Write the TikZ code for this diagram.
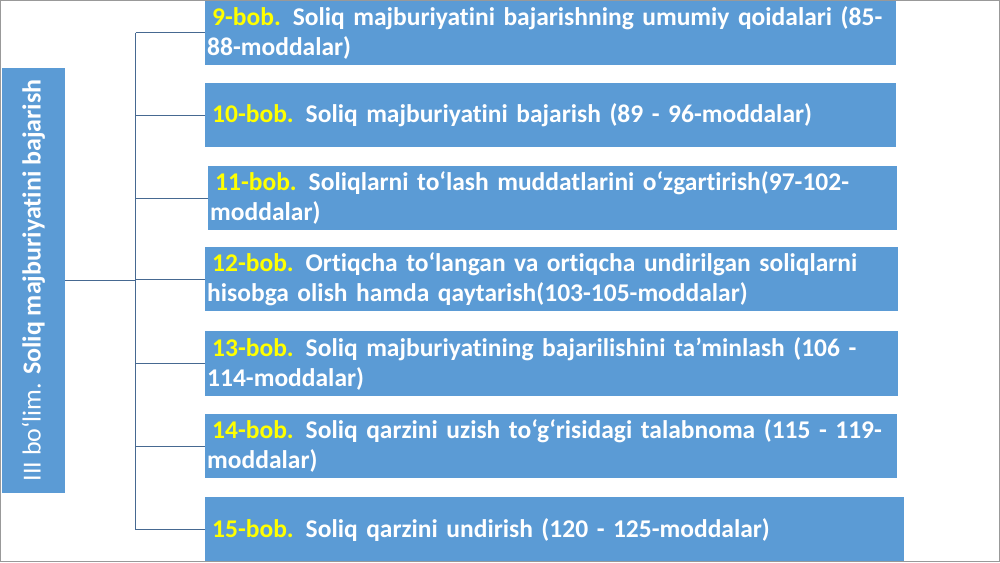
\documentclass[tikz,border=0pt]{standalone}
\usepackage{fontspec}
\usepackage{xcolor}
\usepackage{tikz}
\setmainfont{Carlito}[Ligatures={NoCommon,NoContextual}]
\definecolor{boxblue}{RGB}{91,155,213}
\definecolor{bobyellow}{RGB}{255,255,0}
\definecolor{linkblue}{RGB}{70,105,145}
\newcommand{\bobnum}[1]{\hspace*{5pt}\textcolor{bobyellow}{#1-bob.}\hspace{12pt}}

\begin{document}
\begin{tikzpicture}[x=1pt, y=-1pt,
  chapter/.style={fill=boxblue, text=white, anchor=north west, inner xsep=2pt, inner ysep=0pt,
    align=left, font=\fontsize{25.5}{30}\selectfont\bfseries},
  link/.style={draw=linkblue, line width=1.3pt}]

\useasboundingbox (0,0) rectangle (1000,562);

% section box on the left
\node[fill=boxblue, minimum width=63pt, minimum height=425pt, inner sep=0pt] (part) at (33.5,280.5) {};
\node[rotate=90, text=white, font=\fontsize{26}{30}\selectfont] at (part.center)
  {III bo‘lim. \textbf{Soliq majburiyatini bajarish}};

% chapters
\node[chapter, text width=687pt, minimum height=65pt] (b9) at (205,0)
  {\bobnum{9}Soliq majburiyatini bajarishning umumiy qoidalari (85-\\88-moddalar)};
\node[chapter, text width=687pt, minimum height=64pt] (b10) at (205,83)
  {\bobnum{10}Soliq majburiyatini bajarish (89 - 96-moddalar)};
\node[chapter, text width=685pt, minimum height=64pt] (b11) at (208,166)
  {\bobnum{11}Soliqlarni to‘lash muddatlarini o‘zgartirish(97-102-\\moddalar)};
\node[chapter, text width=689pt, minimum height=64pt] (b12) at (205,247)
  {\bobnum{12}Ortiqcha to‘langan va ortiqcha undirilgan soliqlarni\\hisobga olish hamda qaytarish(103-105-moddalar)};
\node[chapter, text width=689pt, minimum height=65pt] (b13) at (205,331)
  {\bobnum{13}Soliq majburiyatining bajarilishini ta’minlash (106 -\\114-moddalar)};
\node[chapter, text width=688pt, minimum height=64pt] (b14) at (205,414)
  {\bobnum{14}Soliq qarzini uzish to‘g‘risidagi talabnoma (115 - 119-\\moddalar)};
\node[chapter, text width=695pt, minimum height=65pt] (b15) at (205,497)
  {\bobnum{15}Soliq qarzini undirish (120 - 125-moddalar)};

% tree
\coordinate (trunk) at (135.5,0);
\draw[link, line width=1.8pt] (part.east) -- (part.east -| trunk);
\draw[link] (trunk |- b9.west) -- (trunk |- b15.west);
\foreach \b in {b9,b10,b11,b12,b13,b14,b15}
  \draw[link] (trunk |- \b.west) -- (\b.west);

% frame
\draw[gray!80, line width=1pt] (0.5,0.5) rectangle (999.5,561.5);

\end{tikzpicture}
\end{document}
